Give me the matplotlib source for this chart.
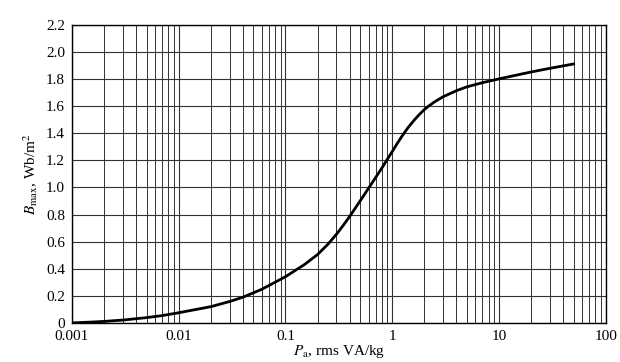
import matplotlib
matplotlib.use("Agg")
import matplotlib.pyplot as plt
from matplotlib.ticker import LogLocator, NullFormatter, FixedLocator

# Magnetization curve
p_a = [0.001, 0.0015, 0.002, 0.003, 0.005, 0.007, 0.01, 0.02, 0.03, 0.04,
       0.06, 0.1, 0.15, 0.2, 0.25, 0.3, 0.35, 0.4, 0.5, 0.6, 0.7, 0.8,
       0.9, 1.0, 1.1, 1.22, 1.4, 1.6, 1.8, 2.0, 2.2, 2.5, 3.0, 4.0,
       5.0, 7.0, 10.0, 20.0, 30.0, 50.0]
b_max = [0.0, 0.006, 0.011, 0.021, 0.039, 0.054, 0.075, 0.12, 0.158, 0.19,
         0.248, 0.341, 0.43, 0.505, 0.581, 0.654, 0.723, 0.787, 0.9, 0.994,
         1.074, 1.144, 1.208, 1.265, 1.318, 1.373, 1.44, 1.496, 1.54, 1.575,
         1.602, 1.633, 1.67, 1.715, 1.743, 1.774, 1.802, 1.853, 1.88, 1.912]

x_ticks = [0.001, 0.01, 0.1, 1, 10, 100]
x_tick_labels = ["0.001", "0.01", "0.1", "1", "10", "100"]
y_ticks = [0, 0.2, 0.4, 0.6, 0.8, 1.0, 1.2, 1.4, 1.6, 1.8, 2.0, 2.2]
y_tick_labels = ["0", "0.2", "0.4", "0.6", "0.8", "1.0", "1.2", "1.4", "1.6", "1.8", "2.0", "2.2"]

plt.rcParams['font.family'] = ['Liberation Serif', 'DejaVu Serif']
plt.rcParams['mathtext.fontset'] = 'stix'

fig = plt.figure(figsize=(6.2, 3.62), dpi=100)
ax = fig.add_axes([0.116, 0.108, 0.861, 0.823])

ax.set_xscale('log')
ax.set_xlim(0.001, 100)
ax.set_ylim(0, 2.2)

ax.xaxis.set_major_locator(FixedLocator(x_ticks))
ax.set_xticklabels(x_tick_labels)
ax.xaxis.set_minor_locator(LogLocator(base=10, subs=range(2, 10), numticks=20))
ax.xaxis.set_minor_formatter(NullFormatter())
ax.set_yticks(y_ticks)
ax.set_yticklabels(y_tick_labels)

ax.grid(True, which='major', axis='both', color='#333333', linewidth=0.8)
ax.grid(True, which='minor', axis='x', color='#333333', linewidth=0.7)
ax.tick_params(which='both', length=0, labelsize=11)
ax.tick_params(axis='x', pad=5)
ax.tick_params(axis='y', pad=5)

ax.plot(p_a, b_max, color='black', linewidth=2.0, solid_joinstyle='round')

for s in ax.spines.values():
    s.set_linewidth(1.0)

ax.set_xlabel(r'$P_{\rm a}$, rms VA/kg', fontsize=11, labelpad=0)
ax.set_ylabel(r'$B_{\rm max}$, Wb/m$^2$', fontsize=11, labelpad=4)

fig.savefig('out.png', dpi=100)
